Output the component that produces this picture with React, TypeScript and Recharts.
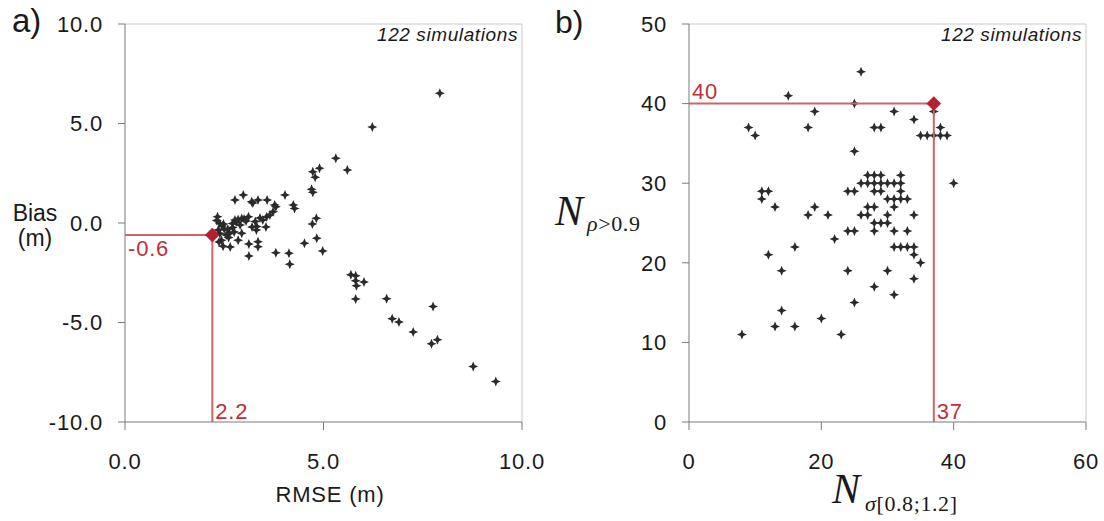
import { ScatterChart, Scatter, XAxis, YAxis, ReferenceLine } from "recharts";

const FONT = '"Liberation Sans", Arial, sans-serif';
const SERIF = '"Liberation Serif", "Times New Roman", serif';
const INK = "#1a1a1a";
const AXIS = "#7a7a7a";
const FRAME = "#c8c8c8";
const GUIDE = "#d0646a";
const RED = "#c0303a";
const MARK = "#b51f2e";
const STAR = "#2b2b2b";

// a) RMSE (m) vs Bias (m), one entry per simulation
const rmse = [
  5.31, 5.6, 4.9, 4.73, 4.79, 4.7, 4.73, 4.03, 2.98, 2.77, 3.19, 3.22, 3.35, 3.58,
  3.77, 3.8, 4.24, 4.27, 4.82, 4.72, 4.83, 4.98, 4.52, 4.13, 3.8, 3.12, 3.35, 3.35,
  3.12, 2.33, 2.31, 2.39, 2.45, 2.35, 2.59, 2.71, 2.77, 2.85, 2.94, 2.71, 2.63, 2.61,
  2.43, 2.47, 2.65, 2.85, 2.94, 3.11, 3.28, 3.32, 3.47, 3.57, 3.65, 3.73, 3.55, 3.31,
  2.39, 2.37, 2.5, 2.55, 2.8, 2.9, 3.0, 3.4, 3.2, 2.48, 2.75, 3.05, 4.15, 7.93, 6.23,
  5.69, 5.81, 5.81, 5.83, 6.02, 5.81, 6.59, 7.76, 6.73, 6.9, 7.26, 7.72, 7.87, 8.77,
  9.34,
];
const bias = [
  3.25, 2.66, 2.75, 2.58, 2.3, 1.7, 1.55, 1.41, 1.41, 1.16, 1.07, 1.0, 1.16, 1.16,
  0.9, 0.82, 0.9, 0.73, 0.24, -0.05, -0.77, -1.41, -1.02, -1.52, -1.49, -1.66, -0.94,
  -1.19, -1.06, 0.32, 0.12, -0.02, -0.15, -0.35, -0.32, -0.02, 0.15, 0.18, 0.23,
  -0.22, -0.53, -0.73, -0.87, -1.17, -1.2, -0.87, -0.52, 0.32, 0.07, -0.18, 0.15,
  0.32, 0.4, 0.57, -0.2, -0.35, -0.53, -0.95, -0.3, -0.6, 0.05, -0.1, 0.2, 0.25, -0.2,
  -0.05, -0.45, 0.1, -2.07, 6.52, 4.83, -2.6, -2.65, -2.9, -3.15, -2.97, -3.82, -3.81,
  -4.19, -4.81, -4.98, -5.48, -6.07, -5.87, -7.21, -7.96,
];
const rmseTicks = [0, 5, 10];
const biasTicks = [-10, -5, 0, 5, 10];
const bestA = { x: 2.2, y: -0.6 };

// b) N sigma[0.8;1.2] vs N rho>0.9 (integer counts, grouped by row)
const nSigma = [
  26, 15, 25,
  19, 31, 37, 34,
  9, 18, 28, 29, 38,
  10, 35, 36, 37, 38, 39,
  25,
  27, 28, 29, 32,
  26, 27, 28, 29, 30, 31, 32, 40,
  11, 12, 24, 25, 28, 29, 32,
  11, 30, 31, 32, 33,
  13, 19, 27, 28, 31,
  18, 21, 26, 27, 30, 34,
  28, 29, 30,
  24, 25, 28, 31, 33,
  22,
  16, 31, 32, 33, 34,
  12, 34,
  35,
  14, 24, 30,
  34, 28, 31, 25, 14, 20,
  13, 16,
  8, 23,
];
const nRho = [
  44, 41, 40,
  39, 39, 39, 38,
  37, 37, 37, 37, 37,
  36, 36, 36, 36, 36, 36,
  34,
  31, 31, 31, 31,
  30, 30, 30, 30, 30, 30, 30, 30,
  29, 29, 29, 29, 29, 29, 29,
  28, 28, 28, 28, 28,
  27, 27, 27, 27, 27,
  26, 26, 26, 26, 26, 26,
  25, 25, 25,
  24, 24, 24, 24, 24,
  23,
  22, 22, 22, 22, 22,
  21, 21,
  20,
  19, 19, 19,
  18, 17, 16, 15, 14, 13,
  12, 12,
  11, 11,
];
const nSigmaTicks = [0, 20, 40, 60];
const nRhoTicks = [0, 10, 20, 30, 40, 50];
const bestB = { x: 37, y: 40 };

const tickStyle = { fill: INK, fontSize: 22, fontFamily: FONT, letterSpacing: 0.8 };

function Star(props: any) {
  const { cx, cy } = props;
  if (cx == null || cy == null) return <g />;
  const a = 5;
  const w = 1.5;
  const d = `M${cx},${cy - a}L${cx + w},${cy - w}L${cx + a},${cy}L${cx + w},${cy + w}L${cx},${cy + a}L${cx - w},${cy + w}L${cx - a},${cy}L${cx - w},${cy - w}Z`;
  return <path d={d} fill={STAR} />;
}

function Diamond(props: any) {
  const { cx, cy } = props;
  if (cx == null || cy == null) return <g />;
  const s = 7;
  return (
    <path
      d={`M${cx},${cy - s}L${cx + s},${cy}L${cx},${cy + s}L${cx - s},${cy}Z`}
      fill={MARK}
      stroke="#8a2040"
      strokeWidth={0.6}
    />
  );
}

const noShape = () => <g />;

const labelShape = (text: string, dx: number, dy: number) => (props: any) => {
  const { cx, cy } = props;
  if (cx == null || cy == null) return <g />;
  return (
    <text x={cx + dx} y={cy + dy} fill={RED} fontSize={22} fontFamily={FONT} letterSpacing={0.8}>
      {text}
    </text>
  );
};

type PanelProps = {
  left: number;
  yAxisWidth: number;
  points: { x: number; y: number }[];
  xDomain: [number, number];
  yDomain: [number, number];
  xTicks: number[];
  yTicks: number[];
  fmt: (v: number) => string;
  best: { x: number; y: number };
  hText: string;
  hAbove: boolean;
  vText: string;
};

function Panel(p: PanelProps) {
  const guide = [
    { x: p.xDomain[0], y: p.best.y },
    { x: p.best.x, y: p.best.y },
    { x: p.best.x, y: p.yDomain[0] },
  ];
  const hPoint = [{ x: p.xDomain[0], y: p.best.y }];
  const vPoint = [{ x: p.best.x, y: p.yDomain[0] }];
  const rightPad = 30;
  const width = p.yAxisWidth + 397 + rightPad;
  return (
    <div style={{ position: "absolute", left: p.left, top: 0 }}>
      <ScatterChart width={width} height={521} margin={{ top: 24, right: rightPad, bottom: 0, left: 0 }}>
        <XAxis
          type="number"
          dataKey="x"
          domain={p.xDomain}
          ticks={p.xTicks}
          interval={0}
          allowDataOverflow
          tickFormatter={p.fmt}
          tick={tickStyle}
          tickSize={8}
          tickMargin={23}
          height={99}
          axisLine={{ stroke: AXIS }}
          tickLine={{ stroke: AXIS }}
        />
        <YAxis
          type="number"
          dataKey="y"
          domain={p.yDomain}
          ticks={p.yTicks}
          interval={0}
          allowDataOverflow
          tickFormatter={p.fmt}
          tick={tickStyle}
          tickSize={7}
          tickMargin={15}
          width={p.yAxisWidth}
          axisLine={{ stroke: AXIS }}
          tickLine={{ stroke: AXIS }}
        />
        <ReferenceLine y={p.yDomain[1]} stroke={FRAME} strokeWidth={1} />
        <ReferenceLine x={p.xDomain[1]} stroke={FRAME} strokeWidth={1} />
        <Scatter data={p.points} shape={Star} isAnimationActive={false} />
        <Scatter
          data={guide}
          line={{ stroke: GUIDE, strokeWidth: 2 }}
          lineType="joint"
          shape={noShape}
          isAnimationActive={false}
        />
        <Scatter data={[p.best]} shape={Diamond} isAnimationActive={false} />
        <Scatter
          data={hPoint}
          shape={labelShape(p.hText, 3, p.hAbove ? -5 : 21)}
          isAnimationActive={false}
        />
        <Scatter data={vPoint} shape={labelShape(p.vText, 3, -3)} isAnimationActive={false} />
      </ScatterChart>
    </div>
  );
}

export default function App() {
  const pointsA = rmse.map((x, i) => ({ x, y: bias[i] }));
  const pointsB = nSigma.map((x, i) => ({ x, y: nRho[i] }));
  const textBase = { fontFamily: FONT, fill: INK };
  return (
    <div
      style={{
        position: "absolute",
        left: 0,
        top: 0,
        width: 1104,
        height: 521,
        background: "#fff",
        overflow: "hidden",
      }}
    >
      <Panel
        left={0}
        yAxisWidth={125}
        points={pointsA}
        xDomain={[0, 10]}
        yDomain={[-10, 10]}
        xTicks={rmseTicks}
        yTicks={biasTicks}
        fmt={(v) => v.toFixed(1)}
        best={bestA}
        hText="-0.6"
        hAbove={false}
        vText="2.2"
      />
      <Panel
        left={560}
        yAxisWidth={129}
        points={pointsB}
        xDomain={[0, 60]}
        yDomain={[0, 50]}
        xTicks={nSigmaTicks}
        yTicks={nRhoTicks}
        fmt={(v) => String(v)}
        best={bestB}
        hText="40"
        hAbove={true}
        vText="37"
      />
      <svg
        width={1104}
        height={521}
        style={{ position: "absolute", left: 0, top: 0, pointerEvents: "none" }}
      >
        <text x={12} y={32} fontSize={33} {...textBase}>a)</text>
        <text x={555} y={33} fontSize={32} {...textBase}>b)</text>
        <text x={518} y={41} fontSize={19} fontStyle="italic" textAnchor="end" letterSpacing={0.6} {...textBase}>
          122 simulations
        </text>
        <text x={1082} y={41} fontSize={19} fontStyle="italic" textAnchor="end" letterSpacing={0.6} {...textBase}>
          122 simulations
        </text>
        <text x={35} y={221} fontSize={23} textAnchor="middle" {...textBase}>Bias</text>
        <text x={35} y={246} fontSize={23} textAnchor="middle" {...textBase}>(m)</text>
        <text x={330} y={502} fontSize={22} textAnchor="middle" letterSpacing={0.8} {...textBase}>
          RMSE (m)
        </text>
        <text x={555} y={225} fontSize={42} fontStyle="italic" fontFamily={SERIF} fill={INK}>N</text>
        <text x={587} y={231} fontSize={22} fontFamily={SERIF} fill={INK} letterSpacing={0.6}>
          <tspan fontStyle="italic">ρ</tspan>&gt;0.9
        </text>
        <text x={832} y={503} fontSize={42} fontStyle="italic" fontFamily={SERIF} fill={INK}>N</text>
        <text x={865} y={511} fontSize={22} fontFamily={SERIF} fill={INK} letterSpacing={0.6}>
          <tspan fontStyle="italic">σ</tspan>[0.8;1.2]
        </text>
      </svg>
    </div>
  );
}
